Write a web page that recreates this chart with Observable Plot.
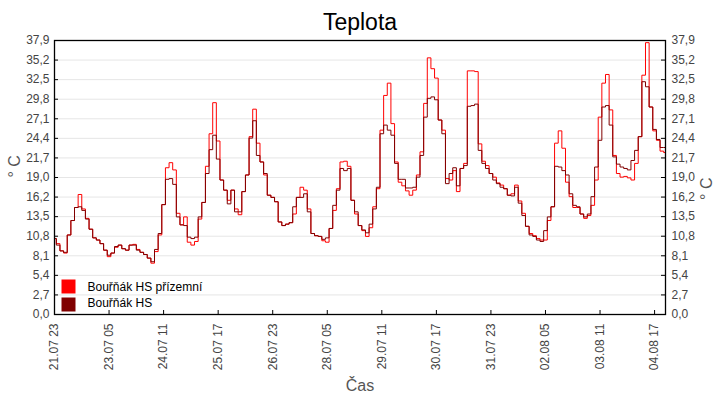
<!DOCTYPE html>
<html>
<head>
<meta charset="utf-8">
<script src="https://cdn.jsdelivr.net/npm/d3@7"></script>
<script src="https://cdn.jsdelivr.net/npm/@observablehq/plot@0.6"></script>
<style>
  html, body { margin: 0; padding: 0; background: #fff; }
</style>
</head>
<body>
<div id="chart"></div>
<script>
// Hours after 21.07 23:00, sampled every 2 hours
const hours = d3.range(0, 337, 2);

const hsPrizemni = [
  10.5, 9.8, 8.8, 8.5, 11.0, 13.0, 14.8, 16.6, 14.6, 13.3,
  11.8, 10.6, 10.3, 9.8, 8.9, 8.0, 8.5, 9.3, 9.6, 9.1,
  8.9, 9.6, 9.7, 9.0, 8.6, 8.3, 7.8, 7.1, 8.7, 11.0,
  15.2, 20.3, 21.0, 20.0, 14.0, 12.4, 13.5, 10.0, 9.6, 10.1,
  13.2, 15.5, 20.5, 25.0, 29.3, 24.0, 18.6, 17.2, 15.8, 17.2,
  14.6, 13.8, 17.0, 19.3, 24.6, 28.4, 23.7, 21.1, 19.3, 16.5,
  16.2, 15.6, 12.8, 12.3, 12.5, 12.7, 13.9, 16.2, 17.6, 17.2,
  14.6, 11.2, 10.9, 10.8, 10.2, 10.0, 11.9, 14.4, 17.4, 21.1,
  21.2, 20.5, 15.8, 13.9, 12.3, 11.6, 10.8, 12.0, 14.9, 17.4,
  25.5, 30.3, 32.0, 26.4, 21.1, 18.3, 17.8, 17.1, 16.5, 17.2,
  19.3, 22.5, 29.2, 35.5, 34.0, 32.7, 26.9, 25.5, 18.8, 18.6,
  19.9, 17.0, 20.2, 20.9, 33.7, 33.7, 33.6, 23.6, 21.2, 20.6,
  19.5, 19.0, 18.2, 17.9, 17.4, 16.5, 16.7, 17.9, 15.7, 14.0,
  12.2, 11.2, 10.9, 10.5, 10.3, 10.3, 13.0, 14.9, 23.7, 25.4,
  23.0, 18.3, 16.3, 14.8, 14.8, 13.9, 13.3, 13.7, 15.1, 18.6,
  27.3, 32.0, 33.2, 28.3, 22.0, 19.5, 19.0, 19.1, 18.9, 18.6,
  20.9, 24.6, 33.1, 37.6, 28.7, 25.4, 24.1, 22.6, 22.4
];

const hsValues = [
  10.5, 9.6, 8.8, 8.6, 11.0, 13.0, 14.8, 14.9, 14.4, 13.2,
  11.8, 10.6, 10.3, 9.8, 8.9, 8.2, 8.5, 9.4, 9.6, 9.1,
  8.9, 9.6, 9.6, 8.9, 8.6, 8.3, 7.8, 7.3, 9.0, 11.2,
  15.2, 18.7, 18.8, 18.0, 13.5, 12.4, 12.3, 10.7, 10.5, 10.7,
  13.5, 15.5, 19.5, 22.8, 24.8, 21.5, 18.6, 17.2, 15.3, 17.2,
  14.2, 14.2, 17.0, 19.3, 24.4, 26.8, 22.0, 21.1, 19.5, 16.5,
  16.2, 15.6, 12.8, 12.3, 12.5, 12.7, 14.9, 16.2, 16.2, 16.7,
  14.2, 11.2, 10.9, 10.8, 10.4, 10.6, 11.9, 15.1, 17.2, 20.2,
  19.9, 20.2, 15.8, 14.2, 12.3, 11.7, 11.3, 12.5, 14.6, 17.6,
  25.0, 26.2, 25.5, 24.8, 20.9, 18.7, 18.7, 17.5, 17.5, 17.6,
  19.0, 22.0, 27.3, 29.9, 30.1, 29.7, 26.9, 25.0, 18.1, 19.5,
  20.3, 17.8, 20.2, 20.6, 28.8, 28.9, 29.1, 22.7, 20.9, 20.2,
  19.5, 18.6, 18.1, 17.6, 17.4, 16.5, 16.4, 17.6, 15.4, 13.7,
  12.2, 11.0, 10.8, 10.3, 10.1, 11.6, 13.5, 14.9, 20.5, 20.4,
  19.9, 19.3, 16.7, 15.1, 14.9, 13.9, 13.5, 13.9, 16.3, 20.4,
  24.1, 28.7, 28.9, 26.2, 21.8, 20.8, 20.4, 20.2, 20.0, 21.3,
  22.7, 24.6, 32.2, 31.5, 28.7, 25.6, 24.2, 23.1, 23.1
];

const seriesNames = ["Bouřňák HS přízemní", "Bouřňák HS"];
const seriesColors = ["#ff0000", "#800000"];

const xTickDates = [
  "2023-07-21T23:00Z", "2023-07-23T05:00Z", "2023-07-24T11:00Z", "2023-07-25T17:00Z",
  "2023-07-26T23:00Z", "2023-07-28T05:00Z", "2023-07-29T11:00Z", "2023-07-30T17:00Z",
  "2023-07-31T23:00Z", "2023-08-02T05:00Z", "2023-08-03T11:00Z", "2023-08-04T17:00Z"
];
const xTickLabels = [
  "21.07 23", "23.07 05", "24.07 11", "25.07 17", "26.07 23", "28.07 05",
  "29.07 11", "30.07 17", "31.07 23", "02.08 05", "03.08 11", "04.08 17"
];
const yTickLabels = [
  "0,0", "2,7", "5,4", "8,1", "10,8", "13,5", "16,2", "19,0",
  "21,7", "24,4", "27,1", "29,8", "32,5", "35,2", "37,9"
];
const yMax = 37.9;
const startTime = Date.UTC(2023, 6, 21, 23);
const endTime = "2023-08-04T23:00Z";

const yTicks = yTickLabels.map((_, i) => i * yMax / (yTickLabels.length - 1));
const xTicks = xTickDates.map(s => new Date(s));

const data = [];
hours.forEach((h, i) => {
  const t = new Date(startTime + h * 3600e3);
  data.push({t, v: hsPrizemni[i], s: seriesNames[0]});
  data.push({t, v: hsValues[i], s: seriesNames[1]});
});

const textColor = "#444";

const chart = Plot.plot({
  width: 720,
  height: 400,
  marginTop: 40,
  marginBottom: 86,
  marginLeft: 54,
  marginRight: 55,
  style: {fontFamily: "Liberation Sans, Arial, sans-serif", fontSize: "12px", background: "#fff"},
  x: {type: "utc", domain: [new Date(startTime), new Date(endTime)]},
  y: {domain: [0, yMax]},
  color: {domain: seriesNames, range: seriesColors},
  marks: [
    Plot.gridY(yTicks, {stroke: "#e6e6e6", strokeOpacity: 1}),
    Plot.line(data, {x: "t", y: "v", z: "s", stroke: "s", strokeWidth: 1, curve: "step"}),
    Plot.tickY(yTicks, {y: d => d, insetRight: 607, stroke: "#000"}),
    Plot.tickY(yTicks, {y: d => d, insetLeft: 607, stroke: "#000"}),
    Plot.tickX(xTicks, {x: d => d, insetTop: 270, stroke: "#000"}),
    Plot.frame({stroke: "#000", strokeWidth: 1.3}),
    Plot.axisY(yTicks, {anchor: "left", tickSize: 0, tickPadding: 5, tickFormat: (d, i) => yTickLabels[i], label: null, fill: textColor}),
    Plot.axisY(yTicks, {anchor: "right", tickSize: 0, tickPadding: 6, tickFormat: (d, i) => yTickLabels[i], label: null, fill: textColor}),
    Plot.axisX(xTicks, {anchor: "bottom", tickSize: 0, tickPadding: 9, tickRotate: -90, tickFormat: (d, i) => xTickLabels[i], label: null, fill: textColor}),
    Plot.text(["° C"], {frameAnchor: "left", dx: -40, rotate: -90, fontSize: 16, fill: "#555"}),
    Plot.text(["° C"], {frameAnchor: "right", dx: 41, rotate: -90, fontSize: 16, fill: "#555"}),
    Plot.text(["Čas"], {frameAnchor: "bottom", dy: 71, lineAnchor: "middle", fontSize: 16, fill: "#555"}),
    Plot.text(["Teplota"], {frameAnchor: "top", dy: -18, lineAnchor: "middle", fontSize: 23, fill: "#000"}),
    // legend
    Plot.dot(seriesNames, {frameAnchor: "bottom-left", dx: 14, dy: -28, symbol: "square", r: 7.9, fill: seriesColors[0], filter: (d, i) => i === 0}),
    Plot.dot(seriesNames, {frameAnchor: "bottom-left", dx: 14, dy: -10, symbol: "square", r: 7.9, fill: seriesColors[1], filter: (d, i) => i === 1}),
    Plot.text(seriesNames, {frameAnchor: "bottom-left", dx: 33, dy: -27, textAnchor: "start", lineAnchor: "middle", fill: "#000", filter: (d, i) => i === 0}),
    Plot.text(seriesNames, {frameAnchor: "bottom-left", dx: 33, dy: -11, textAnchor: "start", lineAnchor: "middle", fill: "#000", filter: (d, i) => i === 1})
  ]
});

document.getElementById("chart").appendChild(chart);
</script>
</body>
</html>
